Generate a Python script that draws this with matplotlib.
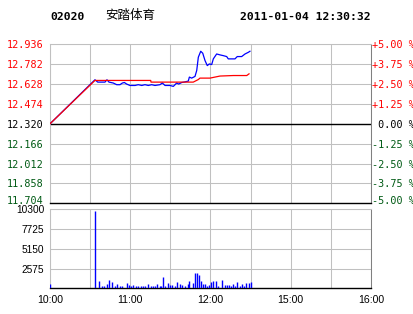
import matplotlib
matplotlib.use("Agg")
import matplotlib.pyplot as plt
from matplotlib.transforms import ScaledTranslation

# ---------------- data ----------------
stock_code = "02020"
stock_name = "安踏体育"
stamp = "2011-01-04 12:30:32"
prev_close = 12.320

# minutes of trading since 10:00 (12:30 == 14:30 break removed)
price_min = [0, 33.6, 35.7, 41.1, 42.6, 44.1, 47.3, 49.9, 52.3, 54.1, 55.6, 57.3,
             59.8, 63.6, 66.0, 68.6, 71.0, 73.5, 76.0, 78.5, 82.2, 84.0, 86.0,
             89.7, 92.2, 93.5, 94.7, 96.2, 98.5, 100.2, 103.4, 104.2, 105.9,
             108.4, 109.7, 110.9, 112.7, 114.2, 115.9, 117.6, 119.1, 120.9,
             122.1, 124.6, 127.1, 129.6, 132.1, 133.3, 138.3, 140.0, 143.3,
             145.8, 148.3, 149.5]
price = [12.320, 12.661, 12.643, 12.643, 12.661, 12.643, 12.636, 12.623, 12.623,
         12.636, 12.640, 12.628, 12.617, 12.617, 12.623, 12.617, 12.623, 12.617,
         12.623, 12.617, 12.623, 12.636, 12.617, 12.617, 12.610, 12.623, 12.636,
         12.628, 12.640, 12.643, 12.651, 12.682, 12.674, 12.687, 12.733, 12.836,
         12.882, 12.867, 12.810, 12.771, 12.784, 12.779, 12.823, 12.861, 12.854,
         12.848, 12.841, 12.823, 12.823, 12.841, 12.841, 12.861, 12.874, 12.882]

avg_min = [0, 33.6, 75.3, 75.5, 107.1, 110.9, 112.1, 119.6, 127.1, 137.1, 147.1, 148.8]
avg_price = [12.320, 12.656, 12.656, 12.643, 12.643, 12.663, 12.674, 12.674,
             12.690, 12.694, 12.694, 12.707]

vol_min = [0, 33.9, 36.9, 38.7, 40.6, 42.6, 44.3, 46.4, 48.4, 50.1, 52.1, 54.1,
           57.8, 59.3, 60.8, 62.3, 64.5, 65.8, 67.8, 69.5, 71.0, 73.3, 75.3,
           77.0, 78.7, 80.2, 82.0, 83.2, 84.7, 86.2, 88.2, 89.7, 91.4, 93.2,
           95.2, 97.2, 98.9, 100.7, 103.2, 104.1, 107.1, 108.6, 110.1, 111.6,
           113.1, 114.6, 116.1, 117.6, 119.1, 120.6, 122.1, 124.1, 125.6, 128.6,
           130.6, 132.1, 133.6, 135.1, 136.6, 138.1, 140.0, 142.1, 143.6, 145.0,
           146.8, 148.6, 150.1]
volume = [520, 10040, 910, 260, 260, 520, 1040, 780, 260, 520, 260, 260,
          650, 390, 260, 390, 260, 260, 260, 260, 260, 520, 260,
          260, 260, 520, 260, 260, 1430, 260, 650, 390, 390, 260,
          780, 520, 390, 260, 520, 910, 650, 1960, 1960, 1700,
          910, 520, 520, 260, 390, 780, 910, 910, 260, 1040,
          390, 390, 390, 260, 520, 260, 780, 260, 520, 260,
          650, 650, 780]

price_ticks = [11.704, 11.858, 12.012, 12.166, 12.320, 12.474, 12.628, 12.782, 12.936]
price_labels = ["11.704", "11.858", "12.012", "12.166", "12.320", "12.474",
                "12.628", "12.782", "12.936"]
pct_labels = ["-5.00 %", "-3.75 %", "-2.50 %", "-1.25 %", " 0.00 %",
              "+1.25 %", "+2.50 %", "+3.75 %", "+5.00 %"]
vol_ticks = [2575, 5150, 7725, 10300]
vol_labels = ["2575", "5150", "7725", "10300"]
time_ticks = [0, 60, 120, 180, 240]
time_labels = ["10:00", "11:00", "12:00", "15:00", "16:00"]
grid_minutes = [0, 30, 60, 90, 120, 150, 180, 210, 240]

# ---------------- style ----------------
RED = "#ff0000"
GREEN = "#005a14"
BLUE = "#0000ff"
GRID = "#c0c0c0"
LW = 0.75
mono = ["DejaVu Sans Mono"]
sans = ["Liberation Sans", "DejaVu Sans"]

W, H = 414, 314
fig = plt.figure(figsize=(W / 100, H / 100), dpi=100)

def frac(x0, y0, x1, y1):
    return [x0 / W, 1 - y1 / H, (x1 - x0) / W, (y1 - y0) / H]

def shift(lbl, dx_px, dy_px):
    lbl.set_transform(lbl.get_transform() +
                      ScaledTranslation(dx_px / 100, dy_px / 100, fig.dpi_scale_trans))

ax = fig.add_axes(frac(50, 44.3, 371, 203.3))
axv = fig.add_axes(frac(50, 209.3, 371, 288.3))

def colour_for(v):
    if v > prev_close + 1e-6:
        return RED
    if v < prev_close - 1e-6:
        return GREEN
    return "black"

# ---- price panel ----
ax.set_xlim(0, 240)
ax.set_ylim(price_ticks[0], price_ticks[-1])
ax.set_xticks(grid_minutes)
ax.set_xticklabels([])
ax.set_yticks(price_ticks)
ax.set_yticklabels(price_labels, family=mono, fontsize=7.3)
for lbl, v in zip(ax.get_yticklabels(), price_ticks):
    lbl.set_color(colour_for(v))
ax.tick_params(axis="both", length=0, pad=4.3)
ax.grid(True, color=GRID, lw=LW)
ax.set_axisbelow(True)
ax.axhline(prev_close, color="black", lw=1.0, zorder=2)
for s in ("top", "left"):
    ax.spines[s].set_color(GRID)
    ax.spines[s].set_linewidth(LW)
ax.spines["right"].set_color("#808080")
ax.spines["right"].set_linewidth(LW)
ax.spines["bottom"].set_color("black")
ax.spines["bottom"].set_linewidth(1.0)

ax.plot(price_min, price, color=BLUE, lw=0.9, zorder=3)
ax.plot(avg_min, avg_price, color=RED, lw=0.9, zorder=4)

ax2 = ax.twinx()
ax2.set_ylim(price_ticks[0], price_ticks[-1])
ax2.set_yticks(price_ticks)
ax2.set_yticklabels(pct_labels, family=mono, fontsize=7.3)
for lbl, v in zip(ax2.get_yticklabels(), price_ticks):
    lbl.set_color(colour_for(v))
ax2.tick_params(axis="y", length=0, pad=0.5)
for s in ax2.spines.values():
    s.set_visible(False)

# lowest labels sit just above the bottom line
shift(ax.get_yticklabels()[0], 0, 3)
shift(ax2.get_yticklabels()[0], 0, 3)

# ---- volume panel ----
axv.vlines(vol_min, 0, volume, color=BLUE, lw=1.0, zorder=3, snap=True)
axv.set_xlim(0, 240)
axv.set_ylim(0, vol_ticks[-1])
axv.set_yticks(vol_ticks)
axv.set_yticklabels(vol_labels, family=sans, fontsize=7.3)
for lbl, dy in zip(axv.get_yticklabels(), [-2, -3, -3.5, -4]):
    shift(lbl, 0, dy)
axv.set_xticks(time_ticks)
axv.set_xticklabels(time_labels, family=sans, fontsize=7.6)
shift(axv.get_xticklabels()[-1], -3.5, 0)
axv.set_xticks([m for m in grid_minutes if m not in time_ticks], minor=True)
axv.tick_params(axis="both", which="both", length=0)
axv.tick_params(axis="y", pad=4.3)
axv.tick_params(axis="x", pad=4.5)
axv.grid(True, which="both", color=GRID, lw=LW)
axv.set_axisbelow(True)
for s in ("top", "left"):
    axv.spines[s].set_color(GRID)
    axv.spines[s].set_linewidth(LW)
axv.spines["right"].set_color("#808080")
axv.spines["right"].set_linewidth(LW)
axv.spines["bottom"].set_color("black")
axv.spines["bottom"].set_linewidth(1.0)

# ---- header ----
fig.text(50 / W, 1 - 17 / H, stock_code, family=mono, fontweight="bold",
         fontsize=8.2, va="center", ha="left")
fig.text(105 / W, 1 - 16 / H, stock_name, family=["Noto Sans CJK SC", "DejaVu Sans"],
         fontsize=9, va="center", ha="left")
fig.text(371 / W, 1 - 17 / H, stamp, family=mono, fontweight="bold",
         fontsize=8.2, va="center", ha="right")

fig.savefig("out.png", dpi=100)
